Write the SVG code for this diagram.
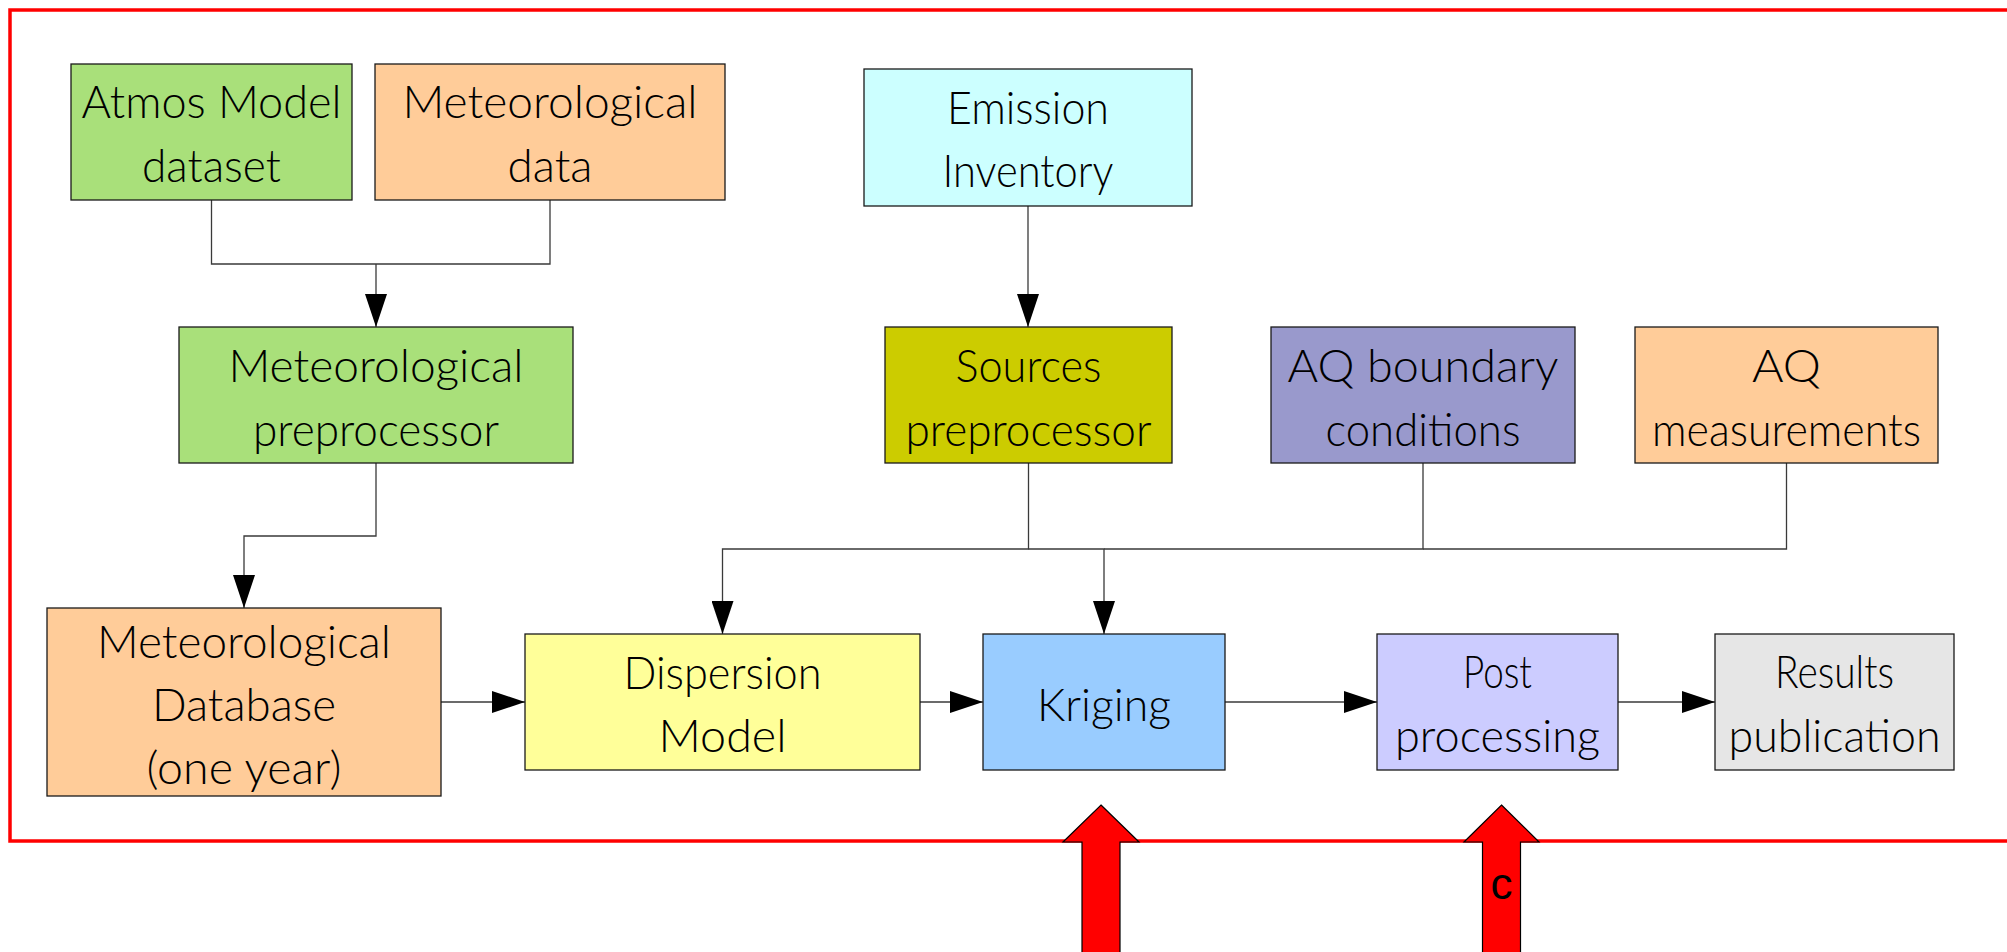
<svg xmlns="http://www.w3.org/2000/svg" width="2007" height="952" viewBox="0 0 2007 952">
<style>
.box{stroke:#1a1a1a;stroke-width:1.3}
.t{font-family:Lato,"Open Sans","DejaVu Sans",sans-serif;font-weight:300;font-size:46px;fill:#000;text-anchor:middle}
.c{fill:none;stroke:#3a3a3a;stroke-width:1.3}
.big{fill:#ff0000;stroke:#000;stroke-width:1.2}
</style>
<defs>
<marker id="ah" markerUnits="userSpaceOnUse" markerWidth="33" markerHeight="22" refX="33" refY="11" orient="auto">
<path d="M0,0 L33,11 L0,22 z" fill="#000"/>
</marker>
</defs>
<rect width="2007" height="952" fill="#fff"/>
<rect x="10" y="10" width="2100" height="831" fill="none" stroke="#ff0000" stroke-width="3.5"/>

<g id="connectors">
<path class="c" d="M211.5,200 V264 H550 V200"/>
<path class="c" d="M376,264 V327" marker-end="url(#ah)"/>
<path class="c" d="M376,463 V536 H244 V608" marker-end="url(#ah)"/>
<path class="c" d="M1028,206 V327" marker-end="url(#ah)"/>
<path class="c" d="M1028.5,463 V549 H722.5 V634" marker-end="url(#ah)"/>
<path class="c" d="M1028.5,549 H1104 V634" marker-end="url(#ah)"/>
<path class="c" d="M1423,463 V549 H1104"/>
<path class="c" d="M1786.5,463 V549 H1423"/>
<path class="c" d="M441,702 H525" marker-end="url(#ah)"/>
<path class="c" d="M920,702 H983" marker-end="url(#ah)"/>
<path class="c" d="M1225,702 H1377" marker-end="url(#ah)"/>
<path class="c" d="M1618,702 H1715" marker-end="url(#ah)"/>
</g>

<g id="atmos">
<rect class="box" x="71" y="64" width="281" height="136" fill="#a9e07a"/>
<text class="t" x="211.5" y="118" textLength="260" lengthAdjust="spacingAndGlyphs">Atmos Model</text>
<text class="t" x="211.5" y="182" textLength="139" lengthAdjust="spacingAndGlyphs">dataset</text>
</g>
<g id="metdata">
<rect class="box" x="375" y="64" width="350" height="136" fill="#ffcc99"/>
<text class="t" x="550" y="118" textLength="295" lengthAdjust="spacingAndGlyphs">Meteorological</text>
<text class="t" x="550" y="182" textLength="85" lengthAdjust="spacingAndGlyphs">data</text>
</g>
<g id="metprep">
<rect class="box" x="179" y="327" width="394" height="136" fill="#a9e07a"/>
<text class="t" x="376" y="382" textLength="295" lengthAdjust="spacingAndGlyphs">Meteorological</text>
<text class="t" x="376" y="446" textLength="246" lengthAdjust="spacingAndGlyphs">preprocessor</text>
</g>
<g id="emission">
<rect class="box" x="864" y="69" width="328" height="137" fill="#ccffff"/>
<text class="t" x="1028" y="124" textLength="162" lengthAdjust="spacingAndGlyphs">Emission</text>
<text class="t" x="1028" y="187" textLength="171" lengthAdjust="spacingAndGlyphs">Inventory</text>
</g>
<g id="sources">
<rect class="box" x="885" y="327" width="287" height="136" fill="#cccc00"/>
<text class="t" x="1028.5" y="382" textLength="146" lengthAdjust="spacingAndGlyphs">Sources</text>
<text class="t" x="1028.5" y="446" textLength="246" lengthAdjust="spacingAndGlyphs">preprocessor</text>
</g>
<g id="aqboundary">
<rect class="box" x="1271" y="327" width="304" height="136" fill="#9999cc"/>
<text class="t" x="1423" y="382" textLength="271" lengthAdjust="spacingAndGlyphs">AQ boundary</text>
<text class="t" x="1423" y="446" textLength="195" lengthAdjust="spacingAndGlyphs">conditions</text>
</g>
<g id="aqmeas">
<rect class="box" x="1635" y="327" width="303" height="136" fill="#ffcc99"/>
<text class="t" x="1786.5" y="382" textLength="69" lengthAdjust="spacingAndGlyphs">AQ</text>
<text class="t" x="1786.5" y="446" textLength="269" lengthAdjust="spacingAndGlyphs">measurements</text>
</g>
<g id="metdb">
<rect class="box" x="47" y="608" width="394" height="188" fill="#ffcc99"/>
<text class="t" x="244" y="658" textLength="294" lengthAdjust="spacingAndGlyphs">Meteorological</text>
<text class="t" x="244" y="721" textLength="184" lengthAdjust="spacingAndGlyphs">Database</text>
<text class="t" x="244" y="784" textLength="195" lengthAdjust="spacingAndGlyphs">(one year)</text>
</g>
<g id="dispersion">
<rect class="box" x="525" y="634" width="395" height="136" fill="#ffff99"/>
<text class="t" x="722.5" y="689" textLength="198" lengthAdjust="spacingAndGlyphs">Dispersion</text>
<text class="t" x="722.5" y="752" textLength="128" lengthAdjust="spacingAndGlyphs">Model</text>
</g>
<g id="kriging">
<rect class="box" x="983" y="634" width="242" height="136" fill="#99ccff"/>
<text class="t" x="1104" y="721" textLength="134" lengthAdjust="spacingAndGlyphs">Kriging</text>
</g>
<g id="post">
<rect class="box" x="1377" y="634" width="241" height="136" fill="#ccccff"/>
<text class="t" x="1497.5" y="688" textLength="69" lengthAdjust="spacingAndGlyphs">Post</text>
<text class="t" x="1497.5" y="752" textLength="205" lengthAdjust="spacingAndGlyphs">processing</text>
</g>
<g id="results">
<rect class="box" x="1715" y="634" width="239" height="136" fill="#e6e6e6"/>
<text class="t" x="1834.5" y="688" textLength="119" lengthAdjust="spacingAndGlyphs">Results</text>
<text class="t" x="1834.5" y="752" textLength="212" lengthAdjust="spacingAndGlyphs">publication</text>
</g>

<g id="bigarrow1">
<path class="big" d="M1101,805 L1139,842 L1120,842 L1120,960 L1082,960 L1082,842 L1063,842 Z"/>
</g>
<g id="bigarrow2">
<path class="big" d="M1501.5,805 L1539,842 L1520.5,842 L1520.5,960 L1482.5,960 L1482.5,842 L1464,842 Z"/>
<text x="1501.5" y="899" font-family="'Liberation Sans',Arial,sans-serif" font-size="44" text-anchor="middle" fill="#000">c</text>
</g>
</svg>
